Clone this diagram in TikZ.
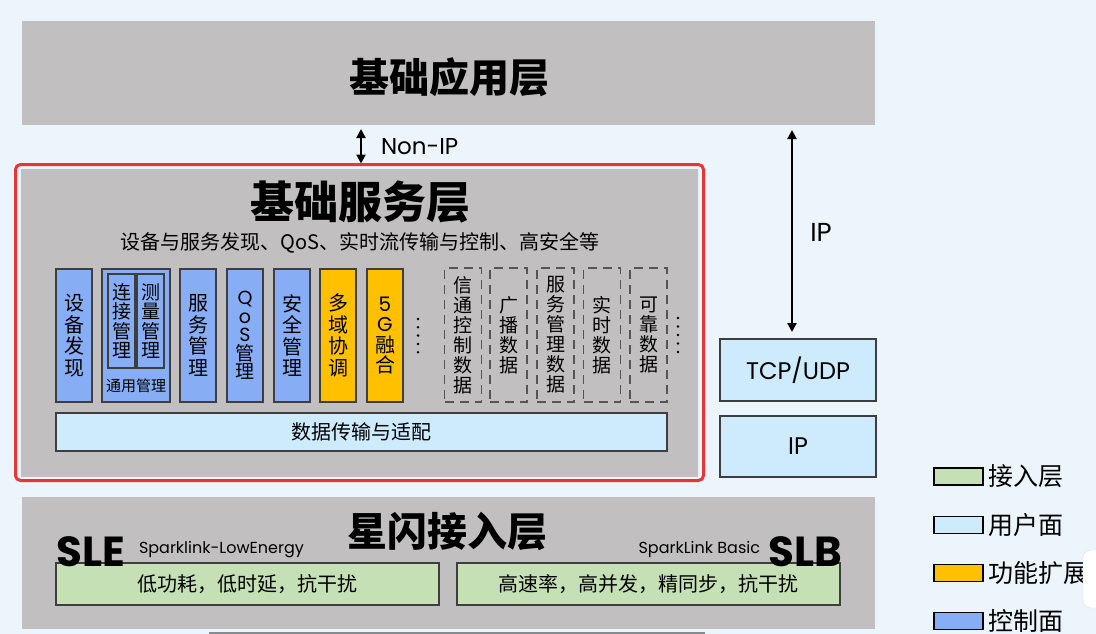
\documentclass[tikz,border=0pt]{standalone}
\usepackage{fontspec}
\setmainfont{Noto Sans CJK SC}
\newfontfamily\cjkblack{Noto Sans CJK SC Black}
\newfontfamily\lat{Poppins}
\usetikzlibrary{arrows.meta}
\definecolor{bgc}{RGB}{236,245,252}
\definecolor{laygray}{RGB}{193,191,192}
\definecolor{ctrlblue}{RGB}{135,174,245}
\definecolor{extorange}{RGB}{255,192,0}
\definecolor{userblue}{RGB}{205,235,252}
\definecolor{accgreen}{RGB}{197,224,180}
\definecolor{edge}{RGB}{62,62,62}
\definecolor{dashgray}{RGB}{85,85,85}
\definecolor{framered}{RGB}{236,52,52}
\definecolor{barc}{RGB}{138,138,140}
\begin{document}
\begin{tikzpicture}[x=1pt,y=-1pt,
  every node/.style={inner sep=0pt, outer sep=0pt},
  layer/.style={fill=laygray, draw=none},
  bigtitle/.style={font=\cjkblack\fontsize{40}{44}\selectfont},
  ibox/.style={draw=edge, line width=1.3pt, minimum width=36pt, minimum height=133pt},
  cbox/.style={ibox, fill=ctrlblue},
  obox/.style={ibox, fill=extorange},
  dbox/.style={draw=dashgray, line width=1.4pt, dash pattern=on 9pt off 6pt, minimum width=37pt, minimum height=134pt},
  vt/.style={align=center, font=\fontsize{20}{21.5}\selectfont},
  vtd/.style={align=center, font=\fontsize{19}{20}\selectfont},
  ubox/.style={draw=edge, line width=1.3pt, fill=userblue},
  gbox/.style={draw=edge, line width=1.3pt, fill=accgreen, minimum width=383pt, minimum height=42pt, font=\fontsize{20}{22}\selectfont},
  legsw/.style={draw=black, line width=1.4pt, minimum width=49pt, minimum height=17pt},
  legtx/.style={anchor=west, font=\fontsize{25}{28}\selectfont},
  arr/.style={line width=2.3pt, {Triangle[length=9pt,width=9pt]}-{Triangle[length=9pt,width=9pt]}},
  latin/.style={font=\lat\fontsize{#1}{#1}\selectfont},
  bigabbr/.style={font=\lat\bfseries\fontsize{42}{44}\selectfont}
]
\fill[bgc] (0,0) rectangle (1096,634);
\useasboundingbox (0,0) rectangle (1096,634);

% top layer
\node[layer, minimum width=853pt, minimum height=104pt] (app) at (448.5,73) {};
\node[bigtitle] (apptitle) at (449,77) {基础应用层};

% service layer frame
\node[draw=framered, line width=3pt, rounded corners=5pt, minimum width=688pt, minimum height=316pt] (frame) at (359.5,322.5) {};
\node[fill=laygray, draw=cyan!12, line width=1pt, minimum width=678pt, minimum height=309pt] (svc) at (359,322.5) {};
\node[font=\cjkblack\fontsize{44}{48}\selectfont] (svctitle) at (360,202) {基础服务层};
\node[font=\fontsize{20}{22}\selectfont] (svcsub) at (360,243) {设备与服务发现、QoS、实时流传输与控制、高安全等};

% control / extension boxes
\node[cbox] (b1) at (74,335.5) {};
\node[vt] at (b1) {设\\备\\发\\现};
\node[cbox, minimum width=68pt] (b2) at (136,335.5) {};
\node[draw=edge, line width=1.3pt, fill=ctrlblue, minimum width=27pt, minimum height=94pt] (b2a) at (121.5,321) {};
\node[align=center, font=\fontsize{19}{19.5}\selectfont] at (b2a) {连\\接\\管\\理};
\node[draw=edge, line width=1.3pt, fill=ctrlblue, minimum width=27pt, minimum height=94pt] (b2b) at (150.5,321) {};
\node[align=center, font=\fontsize{19}{19.5}\selectfont] at (b2b) {测\\量\\管\\理};
\node[font=\fontsize{15}{17}\selectfont] (b2l) at (136,386) {通用管理};
\node[cbox] (b3) at (198,335.5) {};
\node[vt] at (b3) {服\\务\\管\\理};
\node[cbox] (b4) at (245,335.5) {};
\node[align=center, font=\fontsize{19}{18.5}\selectfont] at (b4) {{\lat Q}\\{\lat o}\\{\lat S}\\管\\理};
\node[cbox] (b5) at (292,335.5) {};
\node[vt] at (b5) {安\\全\\管\\理};
\node[obox] (b6) at (338,335.5) {};
\node[vt] at (b6) {多\\域\\协\\调};
\node[obox] (b7) at (385,335.5) {};
\node[align=center, font=\fontsize{20}{20.5}\selectfont] at (b7) {{\lat 5}\\{\lat G}\\融\\合};
\foreach \k in {0,...,4} \fill (418,319+8.3*\k) circle (1.4pt);

% user plane dashed boxes
\node[dbox] (d1) at (463,335) {};
\node[vtd] at (d1) {信\\通\\控\\制\\数\\据};
\node[dbox] (d2) at (508.5,335) {};
\node[vtd] at (d2) {广\\播\\数\\据};
\node[dbox] (d3) at (555.5,335) {};
\node[vtd] at (d3) {服\\务\\管\\理\\数\\据};
\node[dbox] (d4) at (602,335) {};
\node[vtd] at (d4) {实\\时\\数\\据};
\node[dbox] (d5) at (648.5,335) {};
\node[vtd] at (d5) {可\\靠\\数\\据};
\foreach \k in {0,...,4} \fill (678,318+8.5*\k) circle (1.4pt);

\node[ubox, minimum width=611pt, minimum height=38pt, font=\fontsize{20}{22}\selectfont] (data) at (361.5,432) {数据传输与适配};

% Non-IP arrow
\coordinate (nipx) at (361,0);
\draw[arr, line width=2pt] ([yshift=-4pt]app.south -| nipx) -- ([yshift=1pt]frame.north -| nipx);
\node[latin=23, anchor=west] (niplabel) at (381,147) {Non-IP};

% right column
\node[ubox, minimum width=156pt, minimum height=62pt, latin=24] (tcp) at (798,370) {TCP/UDP};
\node[ubox, minimum width=156pt, minimum height=61pt, latin=24] (ipb) at (798,446.5) {IP};
\coordinate (ipx) at (792,0);
\draw[arr] ([yshift=-5pt]app.south -| ipx) -- ([yshift=7pt]tcp.north -| ipx);
\node[latin=26] (iplabel) at (821,232) {IP};

% access layer
\node[layer, minimum width=853pt, minimum height=132pt] (acc) at (448.5,563) {};
\node[bigtitle] (acctitle) at (447,531) {星闪接入层};
\node[gbox] (sle) at (247.5,584) {低功耗，低时延，抗干扰};
\node[gbox] (slb) at (648.5,584) {高速率，高并发，精同步，抗干扰};
\node[bigabbr] (slet) at (91,552) {SLE};
\node[latin=16, anchor=base west] (slen) at (139,553) {Sparklink-LowEnergy};
\node[latin=16, anchor=base east] (slbn) at (760,553) {SparkLink Basic};
\node[bigabbr] (slbt) at (805,552) {SLB};
\fill[barc] (209,632) rectangle (705,634);

% legend
\node[legsw, fill=accgreen] (lg1) at (958.5,476.5) {};
\node[legtx] (lt1) at ([xshift=5pt]lg1.east) {接入层};
\node[legsw, fill=userblue] (lg2) at (958.5,525) {};
\node[legtx] (lt2) at ([xshift=5pt]lg2.east) {用户面};
\node[legsw, fill=extorange] (lg3) at (958.5,573) {};
\node[legtx] (lt3) at ([xshift=5pt]lg3.east) {功能扩展};
\node[legsw, fill=ctrlblue] (lg4) at (958.5,621) {};
\node[legtx] (lt4) at ([xshift=5pt]lg4.east) {控制面};
\fill[white, draw=gray!25, rounded corners=8pt] (1083,550) rectangle (1110,608);
\end{tikzpicture}
\end{document}
